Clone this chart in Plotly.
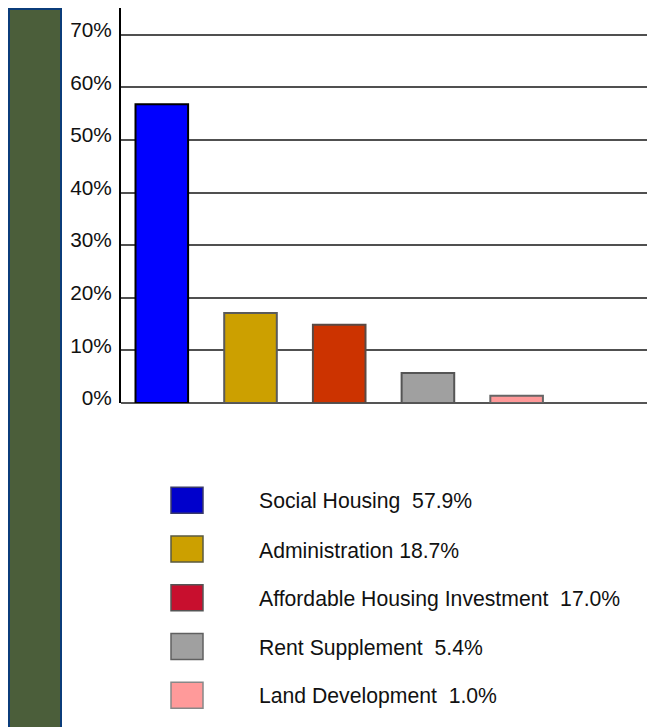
import plotly.graph_objects as go

# ---- data ----
categories = ["Social Housing", "Administration", "Affordable Housing Investment",
              "Rent Supplement", "Land Development"]
bar_values = [56.8, 17.1, 14.9, 5.7, 1.4]
legend_labels = ["Social Housing  57.9%", "Administration 18.7%",
                 "Affordable Housing Investment  17.0%",
                 "Rent Supplement  5.4%", "Land Development  1.0%"]
tick_values = [0, 10, 20, 30, 40, 50, 60, 70]
tick_labels = ["0%", "10%", "20%", "30%", "40%", "50%", "60%", "70%"]

# ---- styles ----
bar_fill = ["#0000FF", "#CCA000", "#CC3300", "#A0A0A0", "#FF9999"]
bar_line = ["#000000", "#5A5A5A", "#5A4A44", "#555555", "#666666"]
swatch_fill = ["#0000CC", "#CCA000", "#C80F2E", "#A0A0A0", "#FF9A9A"]
swatch_line = ["#3A3A6A", "#5A5A40", "#555555", "#606060", "#888888"]

OFF = 8  # page body margin offset
W, H = 655, 727
L, R, T, B = 113, 8, 0, 332
pw, ph = W - L - R, H - T - B

def px(x):
    return (x - OFF - L) / pw

def py(y):
    return (H - B - (y - OFF)) / ph

fig = go.Figure()
fig.add_trace(go.Bar(
    x=list(range(len(categories))), y=bar_values,
    width=0.593,
    marker=dict(color=bar_fill, line=dict(color=bar_line, width=2)),
    hoverinfo="skip", showlegend=False,
))

shapes = []
shapes.append(dict(type="rect", xref="paper", yref="paper",
                   x0=px(9), x1=px(61), y0=py(745), y1=py(9),
                   fillcolor="#4B5E3A", line=dict(color="#0B3C7A", width=2),
                   layer="above"))

annotations = []
top0 = 487.3
step = 48.75
for i, lab in enumerate(legend_labels):
    y0 = top0 + i * step
    shapes.append(dict(type="rect", xref="paper", yref="paper",
                       x0=px(171), x1=px(203), y0=py(y0 + 26), y1=py(y0),
                       fillcolor=swatch_fill[i],
                       line=dict(color=swatch_line[i], width=1.5)))
    annotations.append(dict(x=px(257), y=py(y0 + 14), xref="paper", yref="paper",
                            text=lab, showarrow=False, xanchor="left",
                            yanchor="middle",
                            font=dict(family="Liberation Sans, Arial", size=21.2,
                                      color="#111111")))

fig.update_layout(
    width=W, height=H,
    margin=dict(l=L, r=R, t=T, b=B, pad=0),
    paper_bgcolor="white", plot_bgcolor="white",
    font=dict(family="Liberation Sans, Arial", size=20.8, color="#111111"),
    xaxis=dict(range=[-0.46, 5.56], showticklabels=False, showgrid=False,
               zeroline=False, showline=False, ticks="", fixedrange=True),
    yaxis=dict(range=[0, 75.1], tickvals=tick_values, ticktext=tick_labels,
               showgrid=True, gridcolor="#505050", gridwidth=1.6,
               zeroline=True, zerolinecolor="#555555", zerolinewidth=1.6,
               showline=True, linecolor="#000000", linewidth=2,
               ticks="", ticklabelstandoff=3, ticklabelshift=-5,
               fixedrange=True),
    shapes=shapes, annotations=annotations,
    bargap=0.4,
)

fig.write_html("out.html")
